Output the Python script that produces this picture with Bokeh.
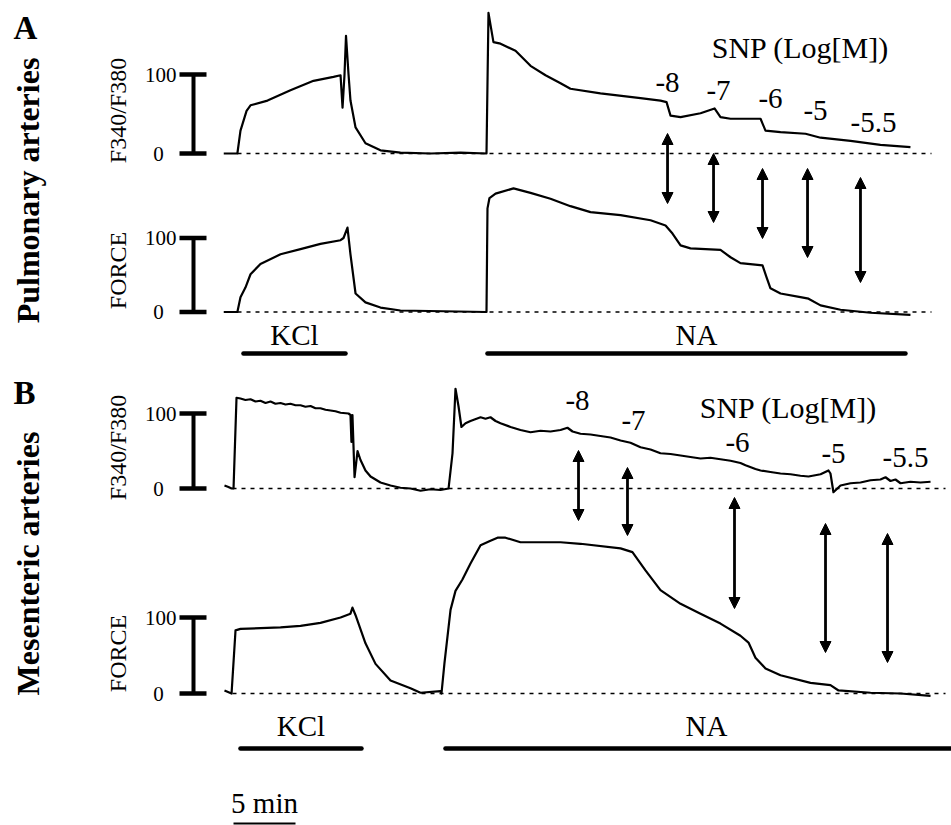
import numpy as np
from bokeh.plotting import figure
from bokeh.models import Range1d, Arrow, NormalHead
from bokeh.core.properties import value
from bokeh.embed import file_html
from bokeh.resources import INLINE

# ---------------- data (time in min, signal in % of KCl response) ----------------
# Panel A  - pulmonary arteries, Fura-2 ratio F340/F380
a_ratio_t = [0.1, 1.2, 1.45, 1.94, 2.26, 3.63, 5.48, 7.34, 8.95, 9.52, 9.68, 9.84, 9.96, 10.16, 10.32,
             10.73, 11.53, 12.74, 14.35, 16.77, 19.19, 21.29, 21.45, 21.85, 22.42, 23.63, 24.84, 26.05,
             27.26, 28.06, 30.48, 33.71, 35.32, 35.81, 36.13, 36.94, 38.55, 39.68, 40.16, 40.97, 43.39,
             43.79, 45.0, 47.02, 48.23, 50.65, 53.06, 55.48]
a_ratio_v = [0, 0, 29, 54, 61, 67, 80, 92, 97, 99, 58, 100, 149, 101, 67,
             33, 13, 4, 1, 0, 1, 0, 178, 141, 139, 130, 111, 99,
             89, 82, 76, 70, 67, 65, 48, 46, 51, 57, 46, 44, 44,
             29, 27, 25, 20, 16, 11, 8]
# Panel A  - pulmonary arteries, force
a_force_t = [0.1, 1.2, 1.45, 1.85, 2.26, 3.06, 4.68, 6.29, 7.90, 9.52, 9.76, 10.08, 10.32, 10.73, 11.53,
             12.74, 14.35, 21.29, 21.37, 21.53, 22.02, 23.47, 24.84, 26.45, 28.06, 29.68, 32.10, 34.52,
             35.73, 36.29, 36.94, 37.74, 40.16, 40.97, 41.77, 43.55, 43.87, 44.19, 45.0, 46.61, 47.26,
             48.23, 49.84, 52.26, 55.48]
a_force_v = [0, 0, 20, 33, 51, 65, 78, 85, 92, 97, 100, 114, 78, 25, 13,
             6, 2, 0, 140, 154, 160, 167, 161, 153, 143, 135, 131, 124,
             117, 106, 90, 86, 84, 74, 66, 63, 47, 32, 25, 20, 18,
             9, 3, -1, -4]
# Panel B  - mesenteric arteries, Fura-2 ratio F340/F380
b_ratio_t = [0.16, 0.48, 0.73, 0.89, 1.13, 1.45, 1.85, 2.26, 2.66, 3.06, 3.47, 3.87, 4.27, 4.68, 5.08,
             5.48, 5.89, 6.29, 6.69, 7.10, 7.50, 7.90, 8.31, 8.71, 9.11, 9.52, 10.16, 10.32, 10.40,
             10.48, 10.65, 10.89, 11.13, 11.53, 11.94, 12.74, 13.55, 14.35, 15.16, 15.97, 16.77, 17.58,
             18.23, 18.55, 18.79, 19.03, 19.27, 19.60, 20.0, 20.81, 21.21, 21.61, 22.02, 22.42, 23.23,
             24.03, 24.84, 25.65, 26.45, 27.26, 27.82, 28.23, 28.87, 29.68, 30.48, 31.29, 32.10, 32.90,
             33.71, 34.52, 35.32, 36.13, 36.94, 37.74, 38.55, 39.35, 40.16, 40.97, 41.77, 42.18, 42.98,
             43.39, 44.19, 45.0, 45.81, 46.61, 47.26, 48.23, 48.87, 49.03, 49.27, 49.84, 50.65, 51.45,
             52.26, 53.06, 53.47, 53.87, 54.27, 54.68, 55.48, 56.29, 57.10]
b_ratio_v = [4, 2, 0, 0, 121, 120, 118, 119, 116, 117, 114, 116, 113, 114, 112,
             113, 111, 111, 109, 110, 107, 107, 105, 104, 103, 101, 100, 98, 62,
             98, 15, 50, 38, 24, 16, 8, 4, 1, 0, -3, -1, -2,
             0, 47, 133, 110, 82, 87, 90, 95, 93, 95, 90, 87, 82,
             78, 75, 77, 76, 78, 81, 76, 73, 72, 70, 68, 64, 61,
             55, 52, 47, 46, 44, 42, 40, 41, 39, 37, 34, 31, 26,
             24, 22, 20, 19, 17, 16, 19, 24, 20, -5, 4, 7, 8,
             11, 12, 15, 10, 12, 7, 9, 8, 9]
# Panel B  - mesenteric arteries, force
b_force_t = [0.16, 0.73, 1.05, 1.45, 4.68, 6.29, 7.90, 9.52, 10.32, 10.48, 10.73, 11.53, 12.34, 13.55,
             15.16, 15.97, 17.58, 17.66, 17.9, 18.39, 18.79, 19.35, 20.0, 20.81, 21.61, 22.18, 22.82,
             24.03, 27.26, 28.87, 32.10, 33.06, 34.11, 35.32, 36.94, 38.55, 40.16, 41.77, 42.42, 42.98,
             43.79, 45.0, 47.42, 49.03, 49.68, 52.26, 54.68, 57.10]
b_force_v = [4, 0, 83, 85, 87, 89, 93, 100, 105, 113, 103, 66, 39, 17,
             7, 1, 3, 0, 40, 110, 135, 150, 171, 195, 201, 205, 205,
             199, 199, 197, 191, 186, 162, 136, 118, 105, 92, 76, 67, 47,
             33, 24, 14, 11, 4, 1, 0, -3]

# drug applications (min)
a_kcl = (1.69, 9.92)
a_na = (21.37, 55.08)
b_kcl = (1.45, 11.21)
b_na = (17.98, 58.8)
snp_labels = ["-8", "-7", "-6", "-5", "-5.5"]
a_snp_t = [35.89, 39.6, 43.55, 47.18, 51.45]
b_snp_t = [28.71, 32.66, 41.29, 48.63, 53.63]
scale_ticks = [0, 100]

# ---------------- layout ----------------
W, H = 951, 825
PX_PER_MIN = 12.4
T0_PX = 222


def tx(px):
    return (px - T0_PX) / PX_PER_MIN


p = figure(width=W, height=H, output_backend="svg", toolbar_location=None,
           x_range=Range1d(tx(0), tx(W)), y_range=Range1d(H, 0),
           x_axis_type=None, y_axis_type=None, min_border=0)
p.outline_line_color = None
p.background_fill_color = "white"
p.border_fill_color = "white"
p.xgrid.visible = False
p.ygrid.visible = False

# panels: zero-line pixel row, px per unit
panels = {"A1": (153, 0.79), "A2": (311.5, 0.74), "B1": (488, 0.75), "B2": (693, 0.76)}
p.extra_y_ranges = {k: Range1d((z - H) / k_, z / k_) for k, (z, k_) in panels.items()}

SERIF = value("Liberation Serif")
LW = 2.2

traces = {"A1": (a_ratio_t, a_ratio_v), "A2": (a_force_t, a_force_v),
          "B1": (b_ratio_t, b_ratio_v), "B2": (b_force_t, b_force_v)}
dash_span = {"A1": (tx(237), tx(931)), "A2": (tx(237), tx(931)),
             "B1": (tx(232), tx(945)), "B2": (tx(232), tx(945))}

for name, (t, v) in traces.items():
    s0, s1 = dash_span[name]
    p.line([s0, s1], [0, 0], y_range_name=name, line_color="black", line_width=1.6,
           line_dash="4 5")
    p.line(t, v, y_range_name=name, line_color="black", line_width=LW, line_join="round")
    # calibration bar
    p.line([tx(193), tx(193)], scale_ticks, y_range_name=name, line_color="black", line_width=4)
    for tv in scale_ticks:
        p.line([tx(179), tx(206)], [tv, tv], y_range_name=name, line_color="black", line_width=4.5)
    p.text([tx(176)], [100], text=["100"], y_range_name=name, text_font=SERIF,
           text_font_size="21px", text_align="right", text_baseline="middle", text_color="black")
    p.text([tx(158)], [0], text=["0"], y_range_name=name, text_font=SERIF,
           text_font_size="21px", text_align="center", text_baseline="middle", text_color="black")

# drug bars
for (t0, t1), ypx in [(a_kcl, 353), (a_na, 353), (b_kcl, 748), (b_na, 748)]:
    p.line([t0, t1], [ypx, ypx], line_color="black", line_width=4.5, line_cap="round")
p.text([sum(a_kcl) / 2, sum(a_na) / 2, sum(b_kcl) / 2, tx(706)],
       [334, 334, 725, 725], text=["KCl", "NA", "KCl", "NA"], text_font=SERIF,
       text_font_size="29px", text_align="center", text_baseline="middle", text_color="black")

# time scale bar
p.line([tx(233), tx(233) + 5], [823, 823], line_color="black", line_width=2)
p.text([tx(233) + 2.5], [802], text=["5 min"], text_font=SERIF, text_font_size="29px",
       text_align="center", text_baseline="middle", text_color="black")

# SNP labels
p.text([tx(800), tx(788)], [47, 407], text=["SNP (Log[M])", "SNP (Log[M])"], text_font=SERIF,
       text_font_size="30px", text_align="center", text_baseline="middle", text_color="black")
a_lab_px = [(667, 82), (718, 90), (770, 98), (815, 110), (873, 122)]
b_lab_px = [(577, 400), (633, 420), (737, 442), (833, 453), (905, 457)]
p.text([tx(x) for x, _ in a_lab_px] + [tx(x) for x, _ in b_lab_px],
       [y for _, y in a_lab_px] + [y for _, y in b_lab_px],
       text=snp_labels + snp_labels, text_font=SERIF, text_font_size="29px",
       text_align="center", text_baseline="middle", text_color="black")

# double arrows at SNP applications
a_arr_y = [(133, 203), (153, 222), (168, 238), (168, 257), (177, 282)]
b_arr_y = [(450, 520), (467, 535), (497, 608), (523, 652), (533, 662)]
for ts, ys in [(a_snp_t, a_arr_y), (b_snp_t, b_arr_y)]:
    for t, (y0, y1) in zip(ts, ys):
        p.add_layout(Arrow(start=NormalHead(size=11, fill_color="black", line_color="black", line_width=1),
                           end=NormalHead(size=11, fill_color="black", line_color="black", line_width=1),
                           x_start=t, y_start=y0, x_end=t, y_end=y1,
                           line_color="black", line_width=2.8))

# vertical labels
p.text([tx(117), tx(117), tx(117), tx(117)], [110, 270, 447, 653],
       text=["F340/F380", "FORCE", "F340/F380", "FORCE"], angle=np.pi / 2,
       text_font=SERIF, text_font_size="24px", text_align="center", text_baseline="middle",
       text_color="black")
p.text([tx(27), tx(27)], [190, 563], text=["Pulmonary arteries", "Mesenteric arteries"],
       angle=np.pi / 2, text_font=SERIF, text_font_size="32px", text_font_style="bold",
       text_align="center", text_baseline="middle", text_color="black")
p.text([tx(13), tx(13)], [27, 392], text=["A", "B"], text_font=SERIF, text_font_size="33px",
       text_font_style="bold", text_align="left", text_baseline="middle", text_color="black")

open("out.html", "w").write(file_html(p, INLINE))
